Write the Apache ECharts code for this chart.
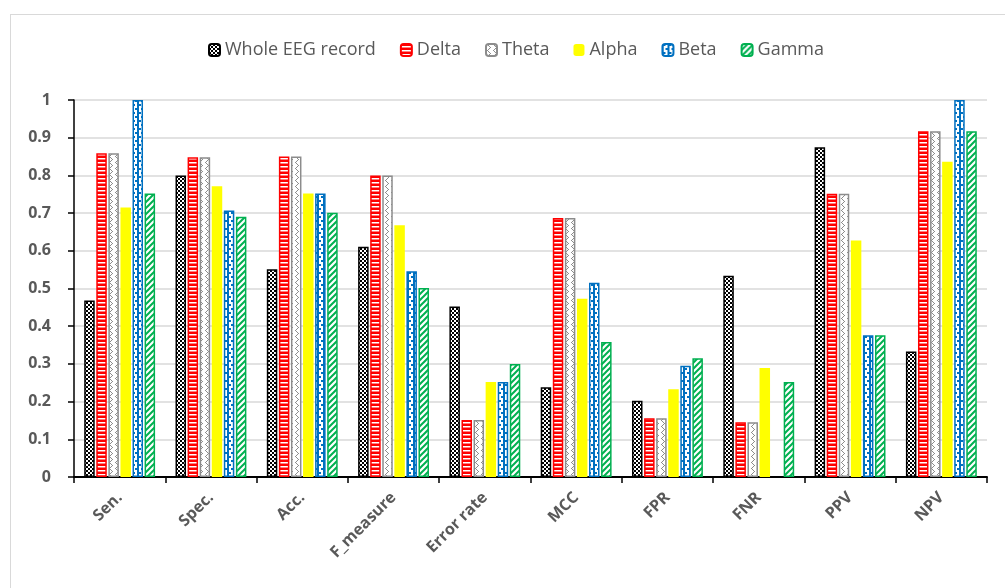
<!DOCTYPE html>
<html><head><meta charset="utf-8">
<script src="https://cdn.jsdelivr.net/npm/echarts@6/dist/echarts.min.js"></script>
<style>html,body{margin:0;padding:0;background:#fff}#c{width:1005px;height:588px}
#frame{position:absolute;left:10px;top:14px;width:1100px;height:700px;border:1px solid #d9d9d9;pointer-events:none}</style>
</head><body><div id="frame"></div><div id="c"></div>
<script>
const categories = ['Sen.', 'Spec.', 'Acc.', 'F_measure', 'Error rate', 'MCC', 'FPR', 'FNR', 'PPV', 'NPV'];
const seriesNames = ['Whole EEG record', 'Delta', 'Theta', 'Alpha', 'Beta', 'Gamma'];
const wholeEEG = [0.468, 0.80, 0.551, 0.611, 0.452, 0.238, 0.202, 0.534, 0.875, 0.333];
const delta    = [0.859, 0.848, 0.85, 0.80, 0.151, 0.687, 0.156, 0.145, 0.751, 0.917];
const theta    = [0.859, 0.848, 0.85, 0.80, 0.151, 0.687, 0.156, 0.145, 0.751, 0.917];
const alpha    = [0.715, 0.771, 0.752, 0.668, 0.252, 0.473, 0.233, 0.289, 0.627, 0.836];
const beta     = [1.0, 0.707, 0.752, 0.546, 0.252, 0.515, 0.295, null, 0.376, 1.0];
const gamma    = [0.752, 0.69, 0.701, 0.501, 0.30, 0.358, 0.315, 0.252, 0.376, 0.917];
const yTicks = [0, 0.1, 0.2, 0.3, 0.4, 0.5, 0.6, 0.7, 0.8, 0.9, 1];

function pat(w, h, draw) {
  const c = document.createElement('canvas');
  c.width = w; c.height = h;
  const g = c.getContext('2d');
  draw(g);
  return { image: c, repeat: 'repeat' };
}
const checker = pat(4, 4, g => { g.fillStyle = '#fff'; g.fillRect(0,0,4,4); g.fillStyle = '#000'; g.fillRect(0,0,2,2); g.fillRect(2,2,2,2); });
const hstripe = pat(4, 4, g => { g.fillStyle = '#ff0000'; g.fillRect(0,0,4,4); g.fillStyle = '#fff'; g.fillRect(0,2,4,1.5); });
const thetaPat = pat(6, 6, g => { g.fillStyle = '#fff'; g.fillRect(0,0,6,6); g.fillStyle = '#8c8c8c';
  g.fillRect(1,0,1,1); g.fillRect(2,1,1,1); g.fillRect(3,2,1,1); g.fillRect(4,3,1,1); g.fillRect(3,4,1,1); g.fillRect(2,5,1,1); });
const betaPat = pat(6, 8, g => { g.fillStyle = '#fff'; g.fillRect(0,0,6,8); g.fillStyle = '#0070c0';
  g.fillRect(0,0,3,2); g.fillRect(3,4,3,2); g.fillRect(0,2,1,6); g.fillRect(5,0,1,8); });
const gammaPat = pat(6, 6, g => { g.fillStyle = '#fff'; g.fillRect(0,0,6,6); g.strokeStyle = '#00b050'; g.lineWidth = 2;
  g.beginPath(); g.moveTo(-1,7); g.lineTo(7,-1); g.stroke(); g.beginPath(); g.moveTo(-1,1); g.lineTo(1,-1); g.stroke(); g.beginPath(); g.moveTo(5,7); g.lineTo(7,5); g.stroke(); });

const styles = [
  { color: checker, borderColor: '#000000', borderWidth: 1.5 },
  { color: hstripe, borderColor: '#ff0000', borderWidth: 1.5 },
  { color: thetaPat, borderColor: '#8c8c8c', borderWidth: 1.5 },
  { color: '#ffff00', borderColor: '#ffff00', borderWidth: 0 },
  { color: betaPat, borderColor: '#0070c0', borderWidth: 1.5 },
  { color: gammaPat, borderColor: '#00b050', borderWidth: 1.5 }
];
const dataSets = [wholeEEG, delta, theta, alpha, beta, gamma];

const chart = echarts.init(document.getElementById('c'), null, { renderer: 'canvas' });
const font = 'Open Sans';
chart.setOption({
  animation: false,
  backgroundColor: 'transparent',
  textStyle: { fontFamily: font },
  legend: {
    top: 36, left: 203, itemGap: 24, itemWidth: 11, itemHeight: 12,
    textStyle: { color: '#595959', fontSize: 18, fontFamily: font },
    data: seriesNames
  },
  grid: { left: 74, right: 18, top: 100, bottom: 111, containLabel: false },
  xAxis: {
    type: 'category', data: categories,
    axisLine: { lineStyle: { color: '#000', width: 2 } },
    axisTick: { show: true, length: 6, lineStyle: { color: '#000', width: 1.5 } },
    axisLabel: { rotate: 45, margin: 18, color: '#595959', fontSize: 16, fontWeight: 'bold', fontFamily: font }
  },
  yAxis: {
    type: 'value', min: 0, max: 1, interval: 0.1,
    axisLine: { show: true, lineStyle: { color: '#000', width: 1.5 } },
    axisTick: { show: true, length: 6, lineStyle: { color: '#000', width: 1.5 } },
    axisLabel: { margin: 23, color: '#595959', fontSize: 16, fontWeight: 'bold', fontFamily: font,
      formatter: v => { const t = yTicks.find(x => Math.abs(x - v) < 1e-6); return String(t !== undefined ? t : v); } },
    splitLine: { lineStyle: { color: '#d9d9d9', width: 1.5 } }
  },
  series: seriesNames.map((n, i) => ({
    name: n, type: 'bar', data: dataSets[i], barWidth: 10.5, barGap: '15%',
    itemStyle: styles[i]
  }))
});
</script>
</body></html>
